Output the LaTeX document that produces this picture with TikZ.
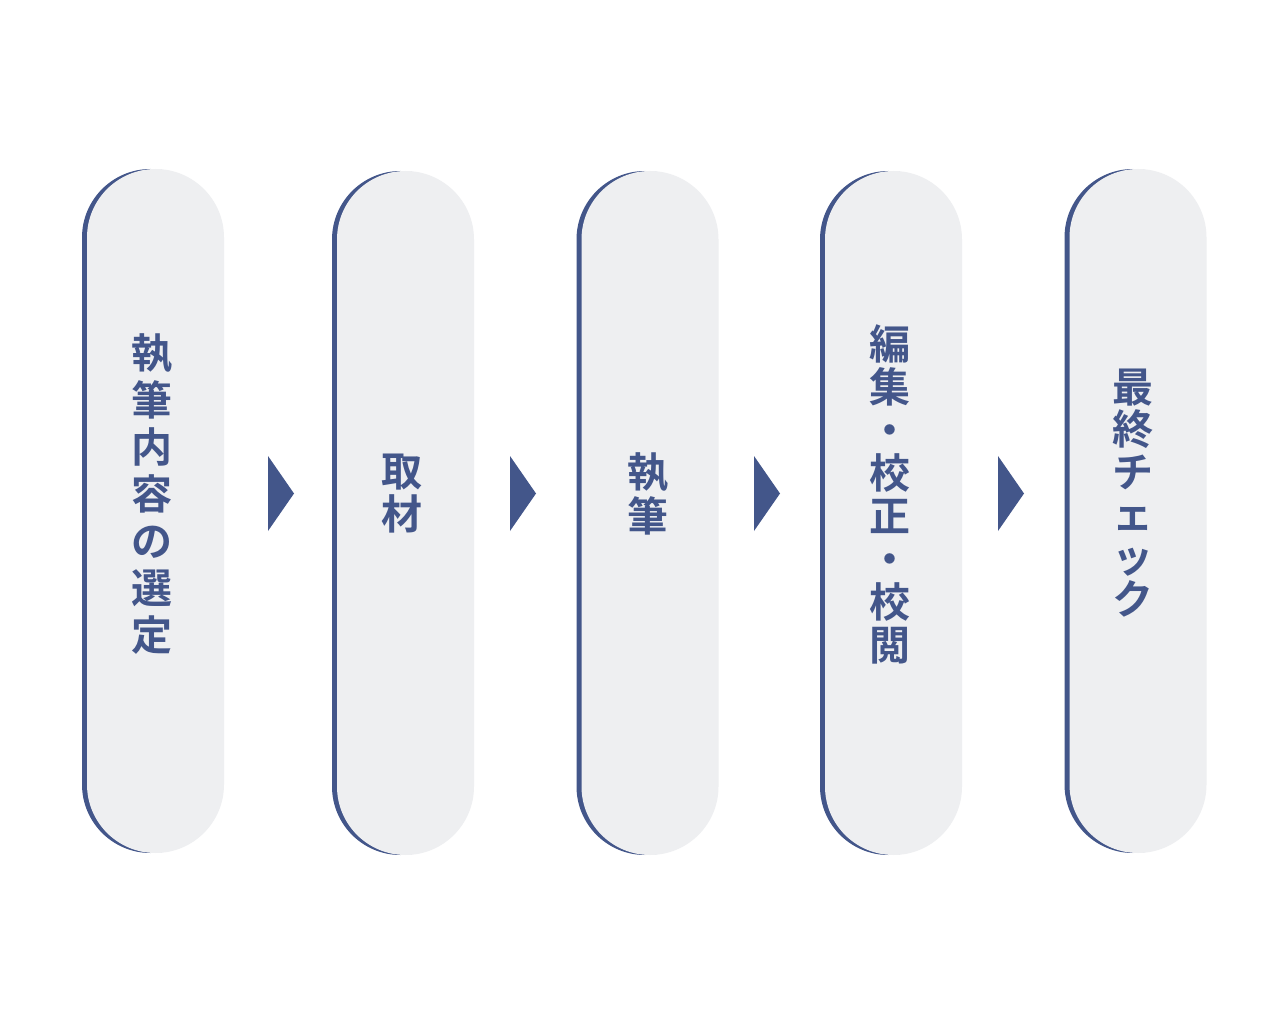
\documentclass[tikz,border=0pt]{standalone}
\usepackage{fontspec}
\newfontfamily\jpfont{Noto Sans CJK JP Bold}
\usetikzlibrary{shadows,calc}
\definecolor{navy}{HTML}{43568A}
\definecolor{pillgrey}{HTML}{EEEFF1}
\tikzset{
  pill/.style={fill=pillgrey, draw=none, minimum width=137pt, minimum height=684pt,
    rounded corners=68.5pt, inner sep=0pt,
    general shadow={fill=navy, shadow xshift=-5pt, shadow yshift=0pt}},
  label/.style={text=navy, align=center, inner sep=0pt, font=\jpfont\fontsize{41}{43}\selectfont},
  tri/.style={fill=navy}
}
\begin{document}
\begin{tikzpicture}[x=1pt,y=-1pt]
\useasboundingbox (0,0) rectangle (1280,1024);
\fill[white] (0,0) rectangle (1280,1024);
\node[pill] (p1) at (155.5,511) {};
\node[pill] (p2) at (405.5,513) {};
\node[pill] (p3) at (650,513) {};
\node[pill] (p4) at (893.5,513) {};
\node[pill] (p5) at (1138,511) {};
\node[label, font=\jpfont\fontsize{41}{47}\selectfont] (t1) at (152,494) {執\\筆\\内\\容\\の\\選\\定};
\node[label] (t2) at (402,494) {取\\材};
\node[label, font=\jpfont\fontsize{41}{44}\selectfont] (t3) at (648,494) {執\\筆};
\node[label] (t4) at (890,494) {編\\集\\・\\校\\正\\・\\校\\閲};
\node[label, font=\jpfont\fontsize{41}{42.5}\selectfont] (t5) at (1133,493) {最\\終\\チ\\ェ\\ッ\\ク};
\coordinate (a1) at (281,493.5);
\coordinate (a2) at (523,493.5);
\coordinate (a3) at (767,493.5);
\coordinate (a4) at (1011,493.5);
\foreach \a in {a1,a2,a3,a4}{
  \fill[tri] ($(\a)+(-13,-37.5)$) -- ($(\a)+(13,0)$) -- ($(\a)+(-13,37.5)$) -- cycle;
}
\end{tikzpicture}
\end{document}
